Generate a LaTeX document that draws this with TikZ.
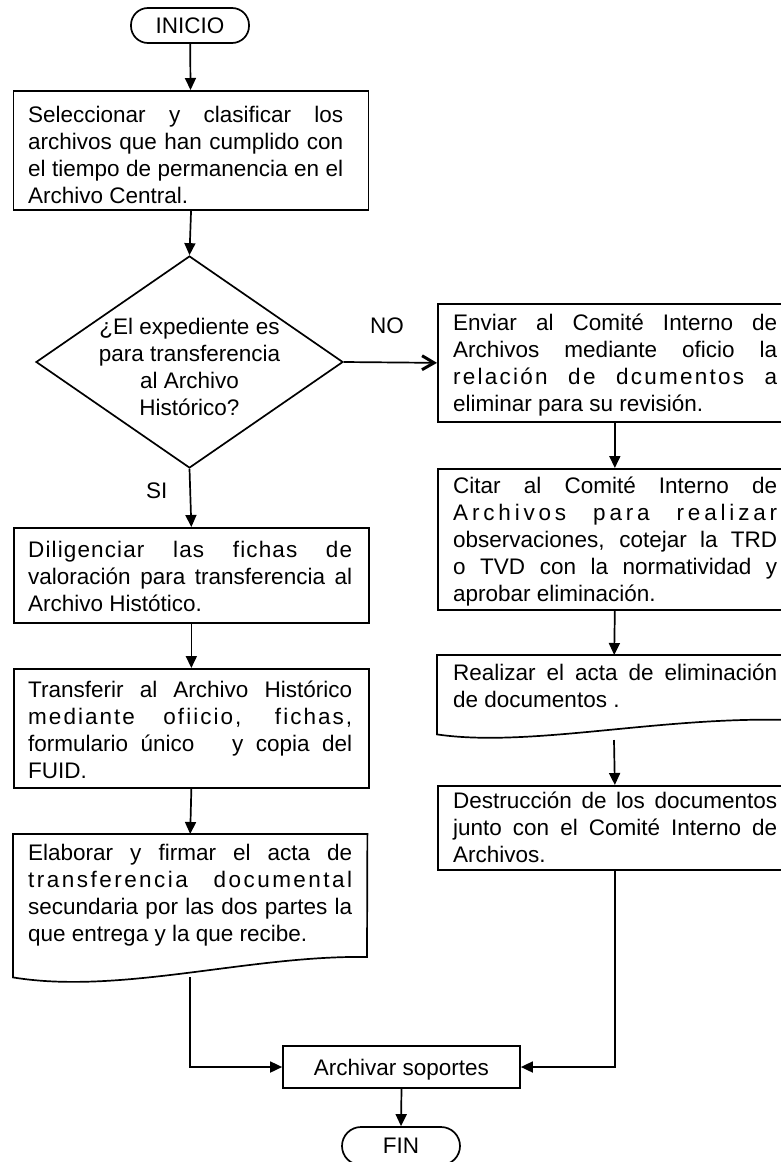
\documentclass[tikz,border=0pt]{standalone}
\usepackage{fontspec}
\setmainfont{Liberation Sans}
\usetikzlibrary{arrows.meta,shapes.geometric}
% one justified line of a text block, and one with extra letter spacing
\newcommand\jl[1]{\makebox[\linewidth][s]{#1}\par}
\newcommand\ls[2]{\makebox[\linewidth][s]{\addfontfeature{LetterSpace=#1}#2}\par}

\begin{document}
\begin{tikzpicture}[x=1pt,y=-1pt,
  every node/.style={font=\fontsize{22.5}{27}\selectfont},
  ln/.style={line width=1.7pt},
  arr/.style={ln,-{Triangle[length=12pt,width=11pt]}},
  barb/.style={ln,-{Straight Barb[length=12pt,width=14pt,line width=3pt]}},
  box/.style={draw,line width=1.7pt,rectangle,inner sep=0pt,anchor=north west},
  docarea/.style={rectangle,inner sep=0pt,anchor=north west},
  term/.style={draw,line width=1.7pt,rounded corners=17pt,minimum width=118pt,minimum height=35pt,inner sep=0pt},
  txt/.style={anchor=base west,inner sep=0pt},
]
\useasboundingbox (0,0) rectangle (781,1162);
\clip (0,0) rectangle (781,1162);

% start
\node[term] (ini) at (190,25.5) {INICIO};

% select and classify
\node[box,minimum width=355pt,minimum height=119pt] (b1) at (12.7,90) {};
\node[txt] (b1t) at (28,122) {\parbox[t]{315pt}{%
  \jl{Seleccionar y clasificar los}
  \jl{archivos que han cumplido con}
  \jl{el tiempo de permanencia en el}
  Archivo Central.}};

% decision
\node[draw,ln,diamond,minimum width=307pt,minimum height=212pt,inner sep=0pt] (dc) at (189.5,362) {};
\node[anchor=base,inner sep=0pt] (dct) at (189.5,334) {\parbox[t]{220pt}{\centering
  ¿El expediente es\\para transferencia\\al Archivo\\Histórico?}};
\node[txt] (no) at (370,333) {NO};
\node[txt] (si) at (146,498) {SI};

% elimination branch
\node[box,minimum width=354pt,minimum height=118pt] (e1) at (437,303) {};
\node[txt] (e1t) at (453,330) {\parbox[t]{324pt}{%
  \jl{Enviar al Comité Interno de}
  \jl{Archivos mediante oficio la}
  \ls{10}{relación de dcumentos a}
  eliminar para su revisión.}};

\node[box,minimum width=354pt,minimum height=141pt] (c1) at (437,468) {};
\node[txt] (c1t) at (453,493) {\parbox[t]{324pt}{%
  \jl{Citar al Comité Interno de}
  \ls{17}{Archivos para realizar}
  \jl{observaciones, cotejar la TRD}
  \jl{o TVD con la normatividad y}
  aprobar eliminación.}};

\node[docarea,minimum width=354pt,minimum height=79pt] (r1) at (437,655) {};
\draw[ln] (r1.south west) -- (r1.north west) -- (r1.north east) -- (791,720)
  .. controls (660,716) and (530,748) .. (r1.south west) -- cycle;
\node[txt] (r1t) at (453,680) {\parbox[t]{324pt}{%
  \jl{Realizar el acta de eliminación}
  de documentos .}};
\coordinate (r1b) at (614,740);

\node[box,minimum width=354pt,minimum height=84pt] (ds) at (437,785) {};
\node[txt] (dst) at (453,808) {\parbox[t]{324pt}{%
  \jl{Destrucción de los documentos}
  \jl{junto con el Comité Interno de}
  Archivos.}};

% transfer branch
\node[box,minimum width=355pt,minimum height=95pt] (dg) at (13,527) {};
\node[txt] (dgt) at (28,557) {\parbox[t]{324pt}{%
  \ls{5}{Diligenciar las fichas de}
  \jl{valoración para transferencia al}
  Archivo Histótico.}};

\node[box,minimum width=355pt,minimum height=119pt] (tr) at (13,668) {};
\node[txt] (trt) at (28,697) {\parbox[t]{324pt}{%
  \jl{Transferir al Archivo Histórico}
  \ls{9}{mediante ofiicio, fichas,}
  \jl{formulario único\ \ \ y copia del}
  FUID.}};

\node[docarea,minimum width=354pt,minimum height=143pt] (el) at (13,834) {};
\draw[ln] (el.south west) -- (el.north west) -- (el.north east) -- (367,957)
  .. controls (250,955) and (120,995) .. (el.south west) -- cycle;
\node[txt] (elt) at (28,860) {\parbox[t]{324pt}{%
  \jl{Elaborar y firmar el acta de}
  \ls{11}{transferencia documental}
  \jl{secundaria por las dos partes la}
  que entrega y la que recibe.}};
\coordinate (elb) at (190,977);

% closing
\node[draw,ln,minimum width=237pt,minimum height=42pt,inner sep=0pt,text depth=0pt] (ar) at (401.5,1067) {Archivar soportes};
\node[term,minimum height=38pt,rounded corners=19pt] (fin) at (401,1146) {FIN};

% connectors
\draw[arr] (ini) -- (b1);
\draw[arr] (b1.south) -- (dc.north);
\draw[barb] (dc.east) -- (e1.west);
\draw[arr] (e1.south) -- (c1.north);
\draw[arr] (c1.south) -- (r1.north);
\draw[arr] (r1b) -- (ds.north);
\draw[arr] (dc.south) -- (dg.north);
\draw[arr] (dg.south) -- (tr.north);
\draw[arr] (tr.south) -- (el.north);
\draw[arr] (elb) |- (ar.west);
\draw[arr] (ds.south) |- (ar.east);
\draw[arr] (ar.south) -- (fin.north);
\end{tikzpicture}
\end{document}
